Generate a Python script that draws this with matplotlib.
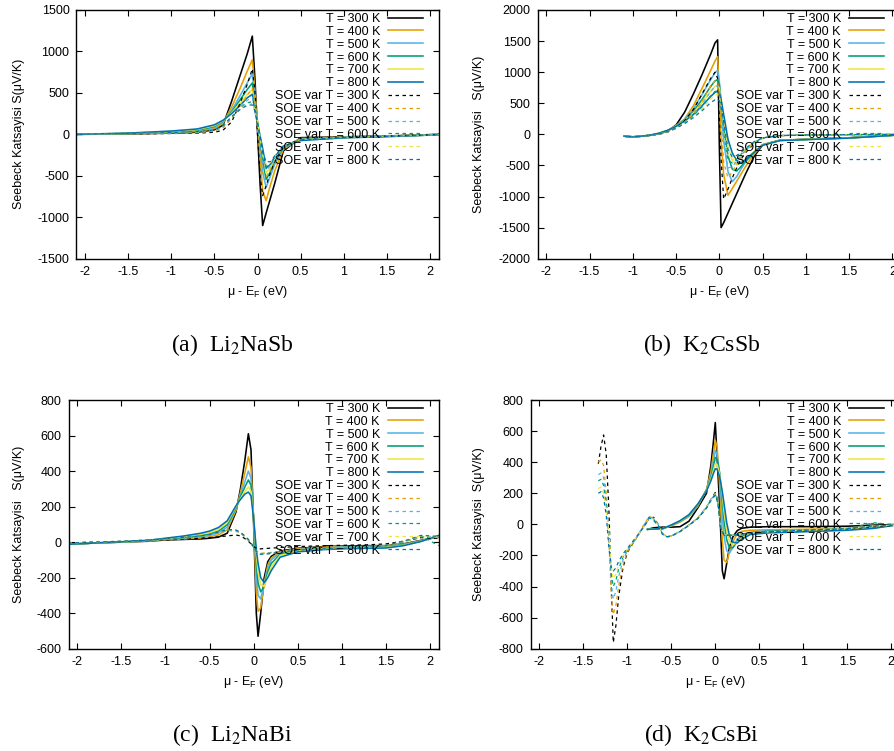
import matplotlib
matplotlib.use("Agg")
import matplotlib.pyplot as plt

plt.rcParams['font.family'] = ['Liberation Sans', 'DejaVu Sans']
plt.rcParams['axes.unicode_minus'] = False
plt.rcParams['mathtext.fontset'] = 'custom'
plt.rcParams['mathtext.rm'] = 'Liberation Sans'
plt.rcParams['mathtext.it'] = 'Liberation Sans:italic'

# renkler ve etiketler
colors = ['#000000', '#E69F00', '#56B4E9', '#009E73', '#F0E442', '#0072B2']
temps = [300, 400, 500, 600, 700, 800]
solid_labels = [f'T = {t} K' for t in temps]
soe_labels = [f'SOE var T = {t} K' for t in temps]

xticks = [-2, -1.5, -1, -0.5, 0, 0.5, 1, 1.5, 2]
xtick_labels = ['-2', '-1.5', '-1', '-0.5', '0', '0.5', '1', '1.5', '2']

# (a) Li2NaSb
x_a = [-2.1, -1.5, -1.0, -0.7, -0.5, -0.4, -0.3, -0.2, -0.12, -0.06, -0.03,
       0.0, 0.03, 0.06, 0.1, 0.15, 0.2, 0.3, 0.5, 1.0, 1.5, 2.1]
S_a = [
    [0, 5, 15, 25, 55, 110, 400, 717, 969, 1185, 677, 37, -603, -1100, -950, -770, -590, -200, -40, -30, -20, 0],
    [0, 7, 20, 35, 70, 135, 330, 560, 760, 900, 528, 123, -280, -685, -800, -610, -440, -180, -50, -32, -21, -4],
    [0, 9, 25, 42, 85, 150, 290, 470, 620, 730, 432, 134, -164, -460, -640, -500, -360, -165, -58, -35, -22, -5],
    [0, 11, 30, 50, 95, 160, 270, 420, 540, 620, 388, 153, -82, -317, -545, -450, -320, -155, -65, -38, -24, -5],
    [0, 13, 35, 58, 105, 165, 260, 380, 480, 540, 353, 163, -27, -217, -465, -400, -290, -150, -70, -40, -26, -5],
    [0, 15, 40, 65, 115, 170, 250, 350, 440, 483, 284, 133, -18, -168, -410, -360, -270, -145, -75, -42, -28, -5],
]
SOE_a = [
    [0, 5, 10, 15, 25, 50, 150, 380, 600, 790, 520, 10, -500, -740, -620, -460, -330, -150, -50, -30, -20, 0],
    [0, 6, 14, 22, 40, 80, 190, 330, 470, 555, 420, 120, -200, -470, -510, -420, -310, -150, -55, -32, -20, -3],
    [0, 7, 16, 25, 45, 90, 200, 320, 410, 445, 360, 150, -100, -360, -430, -380, -290, -145, -58, -33, -21, -3],
    [0, 8, 18, 28, 48, 95, 205, 310, 380, 395, 320, 150, -60, -290, -390, -360, -280, -145, -60, -35, -22, -3],
    [0, 9, 20, 30, 50, 100, 210, 305, 365, 375, 300, 145, -40, -250, -360, -340, -270, -140, -62, -36, -23, -4],
    [0, 10, 22, 33, 52, 105, 215, 300, 350, 355, 285, 140, -30, -220, -330, -330, -260, -140, -65, -38, -24, -4],
]

# (b) K2CsSb
x_b = [-1.1, -1.0, -0.9, -0.8, -0.7, -0.6, -0.5, -0.4, -0.3, -0.2, -0.1, -0.05, -0.02,
       0.0, 0.02, 0.05, 0.1, 0.15, 0.2, 0.25, 0.3, 0.4, 0.5, 0.7, 1.0, 1.5, 2.1]
S_b = [
    [-30, -40, -30, -15, 10, 50, 150, 360, 650, 960, 1290, 1470, 1520, -200, -1500, -1420, -1265, -1110, -955, -800, -645, -360, -170, -95, -80, -55, -5],
    [-30, -40, -30, -15, 10, 55, 140, 250, 460, 740, 1030, 1180, 1250, 700, -100, -650, -980, -870, -755, -640, -525, -320, -165, -95, -80, -56, -6],
    [-30, -40, -30, -15, 12, 58, 135, 240, 410, 640, 880, 990, 1030, 850, 450, -100, -600, -760, -680, -560, -450, -300, -170, -96, -81, -57, -6],
    [-30, -40, -30, -14, 14, 60, 132, 230, 370, 560, 770, 860, 880, 800, 550, 150, -350, -560, -590, -520, -430, -290, -170, -97, -82, -58, -7],
    [-30, -40, -30, -13, 16, 62, 130, 222, 345, 510, 690, 770, 790, 740, 560, 250, -200, -420, -490, -460, -400, -280, -172, -98, -83, -59, -7],
    [-30, -40, -30, -12, 18, 64, 128, 215, 320, 460, 610, 675, 695, 680, 560, 320, -80, -300, -420, -460, -410, -290, -175, -100, -85, -60, -8],
]
SOE_b = [
    [-30, -40, -30, -18, 0, 35, 100, 220, 400, 650, 900, 1000, 900, 300, -400, -1040, -880, -700, -540, -400, -300, -150, -60, -20, -10, -5, 0],
    [-30, -40, -30, -18, 2, 38, 100, 200, 330, 530, 780, 860, 850, 650, 200, -450, -700, -600, -480, -370, -280, -140, -60, -20, -10, -5, 0],
    [-30, -40, -30, -18, 3, 40, 100, 190, 310, 480, 690, 770, 775, 680, 400, -150, -540, -520, -430, -340, -260, -135, -60, -20, -10, -5, 0],
    [-30, -40, -30, -18, 4, 42, 100, 185, 295, 440, 620, 690, 700, 640, 450, 50, -420, -460, -400, -320, -250, -130, -58, -20, -10, -5, 0],
    [-30, -40, -30, -18, 5, 44, 100, 180, 280, 410, 570, 630, 645, 600, 460, 150, -330, -410, -370, -300, -240, -125, -56, -20, -10, -5, 0],
    [-30, -40, -30, -18, 6, 46, 100, 175, 270, 380, 510, 555, 565, 540, 440, 200, -250, -360, -340, -290, -230, -120, -55, -20, -10, -5, 0],
]

# (c) Li2NaBi
x_c = [-2.1, -1.8, -1.5, -1.2, -1.0, -0.8, -0.6, -0.5, -0.4, -0.3, -0.2, -0.15, -0.1, -0.06, -0.03,
       0.0, 0.03, 0.05, 0.08, 0.12, 0.16, 0.2, 0.3, 0.5, 0.8, 1.0, 1.3, 1.5, 1.7, 1.9, 2.1]
S_c = [
    [-12, -5, 0, 5, 12, 15, 18, 22, 28, 50, 170, 300, 460, 610, 520, 100, -400, -530, -400, -200, -110, -80, -50, -35, -25, -22, -20, -20, -10, 10, 30],
    [-12, -5, 0, 6, 14, 18, 24, 30, 40, 70, 180, 280, 390, 480, 420, 120, -280, -390, -370, -230, -130, -90, -55, -38, -28, -25, -23, -22, -12, 8, 30],
    [-12, -5, 0, 7, 16, 22, 30, 38, 52, 85, 190, 265, 340, 400, 360, 130, -180, -300, -320, -240, -150, -100, -60, -42, -32, -28, -26, -24, -14, 7, 32],
    [-12, -5, 1, 8, 18, 26, 37, 46, 62, 98, 195, 255, 310, 350, 320, 140, -120, -230, -280, -250, -170, -120, -68, -46, -35, -31, -29, -27, -16, 6, 34],
    [-12, -5, 1, 9, 20, 30, 44, 54, 72, 110, 200, 245, 285, 310, 285, 140, -70, -170, -240, -250, -190, -140, -75, -50, -38, -34, -32, -30, -18, 5, 36],
    [-12, -5, 2, 10, 22, 34, 50, 62, 82, 120, 205, 240, 270, 282, 260, 130, -40, -120, -200, -228, -200, -160, -85, -55, -42, -38, -35, -33, -20, 4, 38],
]
SOE_c = [
    [-5, 0, 3, 8, 12, 18, 22, 25, 30, 35, 40, 35, 20, 5, -10, -25, -35, -38, -38, -36, -35, -34, -30, -25, -20, -18, -15, -10, 5, 25, 20],
    [-5, 0, 4, 10, 15, 22, 30, 38, 50, 65, 62, 50, 30, 10, -10, -30, -50, -58, -62, -62, -60, -58, -52, -42, -35, -32, -28, -20, 0, 30, 25],
    [-5, 0, 4, 10, 16, 23, 32, 40, 52, 68, 64, 52, 32, 12, -8, -28, -50, -60, -64, -64, -62, -60, -54, -43, -36, -33, -28, -20, 2, 32, 28],
    [-5, 0, 4, 11, 17, 24, 33, 41, 54, 70, 66, 53, 33, 13, -7, -27, -52, -62, -66, -66, -64, -62, -55, -44, -37, -34, -29, -20, 3, 35, -20],
    [-5, 0, 5, 11, 17, 25, 34, 42, 55, 71, 67, 54, 34, 14, -6, -26, -52, -63, -67, -67, -65, -63, -56, -45, -38, -34, -29, -19, 4, 36, 30],
    [-5, 0, 5, 12, 18, 26, 35, 43, 56, 72, 68, 55, 35, 15, -5, -25, -52, -64, -68, -68, -66, -64, -57, -45, -38, -35, -30, -18, 5, 38, 32],
]

# (d) K2CsBi
x_d = [-0.77, -0.7, -0.6, -0.5, -0.4, -0.3, -0.2, -0.1, -0.05, -0.02, 0.0, 0.02, 0.05,
       0.08, 0.1, 0.13, 0.16, 0.2, 0.25, 0.3, 0.4, 0.6, 1.0, 1.5, 1.8, 2.1]
S_d = [
    [-32, -22, -18, -18, -15, 20, 105, 200, 380, 540, 655, 440, 110, -300, -350, -250, -150, -80, -40, -25, -18, -15, -15, -12, -5, 0],
    [-32, -30, -28, -10, 15, 50, 115, 225, 340, 460, 540, 500, 250, -100, -230, -245, -180, -110, -60, -45, -38, -35, -32, -25, -15, 0],
    [-32, -30, -28, -8, 18, 55, 120, 222, 315, 410, 475, 450, 320, 50, -80, -170, -185, -150, -95, -70, -50, -40, -36, -30, -20, 0],
    [-32, -30, -28, -6, 20, 58, 125, 220, 300, 375, 430, 420, 330, 150, 20, -100, -150, -150, -110, -80, -55, -45, -40, -33, -22, 0],
    [-32, -30, -28, -5, 22, 60, 128, 218, 290, 350, 390, 385, 320, 190, 80, -40, -110, -132, -115, -88, -60, -50, -44, -36, -24, 0],
    [-32, -30, -28, -4, 24, 62, 130, 215, 280, 330, 358, 355, 305, 210, 130, 10, -70, -115, -120, -95, -65, -55, -48, -38, -26, 0],
]
x_d_soe = [-1.33, -1.3, -1.27, -1.24, -1.21, -1.18, -1.16, -1.13, -1.1, -1.05, -1.0, -0.9, -0.8,
           -0.75, -0.7, -0.65, -0.6, -0.55, -0.5, -0.4, -0.3, -0.2, -0.1, -0.05, 0.0, 0.03,
           0.06, 0.1, 0.2, 0.4, 0.7, 1.0, 1.5, 1.8, 2.1]
SOE_d = [
    [390, 500, 575, 450, 100, -450, -760, -650, -470, -280, -180, -90, 0, 40, 45, 0, -60, -80, -75, -45, -5, 40, 110, 160, 205, 150, -20, -70, -70, -55, -45, -40, -30, -15, -5],
    [400, 415, 380, 200, -100, -480, -580, -520, -400, -260, -175, -90, 10, 50, 40, 0, -60, -80, -75, -45, -5, 40, 110, 160, 200, 150, -10, -65, -70, -55, -45, -38, -28, -10, -5],
    [320, 330, 300, 150, -80, -390, -480, -430, -340, -230, -170, -90, 5, 50, 35, 0, -60, -80, -75, -45, -5, 40, 110, 160, 195, 145, -10, -65, -70, -55, -45, -38, -28, -10, -5],
    [280, 290, 250, 120, -60, -330, -400, -360, -290, -210, -165, -88, 0, 48, 30, -5, -62, -80, -76, -46, -6, 38, 108, 158, 192, 140, -15, -68, -70, -55, -45, -38, -28, 10, -5],
    [230, 240, 200, 90, -50, -280, -350, -320, -260, -200, -160, -85, -5, 45, 28, -5, -62, -80, -76, -46, -6, 38, 106, 155, 190, 138, -15, -68, -70, -55, -45, -38, -28, -10, -5],
    [200, 210, 170, 60, -150, -290, -300, -280, -240, -190, -155, -82, -8, 42, 25, -8, -64, -80, -76, -46, -6, 36, 104, 152, 188, 135, -18, -70, -70, -55, -45, -38, -28, -10, -5],
]

fig = plt.figure(figsize=(8.95, 7.51), dpi=100)
W, H = 895.0, 751.0


def panel(px, x_s, solid, x_soe, soe, ylim, ystep, ylabel, ylab_x, leg_x, caption, cap_xy):
    left, right, top, bottom = px
    ax = fig.add_axes([left / W, 1 - bottom / H, (right - left) / W, (bottom - top) / H])
    for c, y, lab in zip(colors, solid, solid_labels):
        ax.plot(x_s, y, color=c, lw=1.15, label=lab)
    for c, y, lab in zip(colors, soe, soe_labels):
        ax.plot(x_soe, y, color=c, lw=0.9, dashes=(2.8, 2.8), label=lab)
    ax.set_xlim(-2.1, 2.1)
    ax.set_ylim(*ylim)
    ax.set_xticks(xticks)
    ax.set_xticklabels(xtick_labels)
    yt = list(range(ylim[0], ylim[1] + 1, ystep))
    ax.set_yticks(yt)
    ax.set_yticklabels([str(v) for v in yt])
    ax.tick_params(direction='in', top=True, right=True, length=4, width=0.8,
                   labelsize=9, pad=5)
    for s in ax.spines.values():
        s.set_linewidth(1.0)
    ax.set_xlabel('μ - E$_\\mathrm{F}$ (eV)', fontsize=9)
    ax.xaxis.set_label_coords(0.5, -0.1)
    ax.set_ylabel(ylabel, fontsize=9)
    ax.yaxis.set_label_coords(ylab_x, 0.5)
    ax.legend(loc='upper right', bbox_to_anchor=(leg_x, 0.988), frameon=False,
              fontsize=9, borderpad=0, borderaxespad=0, labelspacing=0.07,
              handlelength=2.8, handletextpad=0.65, markerfirst=False)
    fig.text(cap_xy[0] / W, 1 - cap_xy[1] / H, caption, ha='center', va='center',
             family='Liberation Serif', fontsize=17, math_fontfamily='stix')
    return ax


panel((76.4, 438.6, 10, 258.7), x_a, S_a, x_a, SOE_a, (-1500, 1500), 500,
      'Seebeck Katsayisi S(μV/K)', -0.142, 0.957, '(a)  Li$_2$NaSb', (232, 345))
panel((537.7, 901, 10, 258.7), x_b, S_b, x_b, SOE_b, (-2000, 2000), 500,
      'Seebeck Katsayisi   S(μV/K)', -0.144, 0.953, '(b)  K$_2$CsSb', (702, 345))
panel((68.5, 438.8, 400, 648.7), x_c, S_c, x_c, SOE_c, (-600, 800), 200,
      'Seebeck Katsayisi   S(μV/K)', -0.117, 0.957, '(c)  Li$_2$NaBi', (232, 735))
panel((530.6, 900, 400, 648.7), x_d, S_d, x_d_soe, SOE_d, (-800, 800), 200,
      'Seebeck Katsayisi  S(μV/K)', -0.123, 0.957, '(d)  K$_2$CsBi', (702, 735))

fig.savefig('out.png', dpi=100)
